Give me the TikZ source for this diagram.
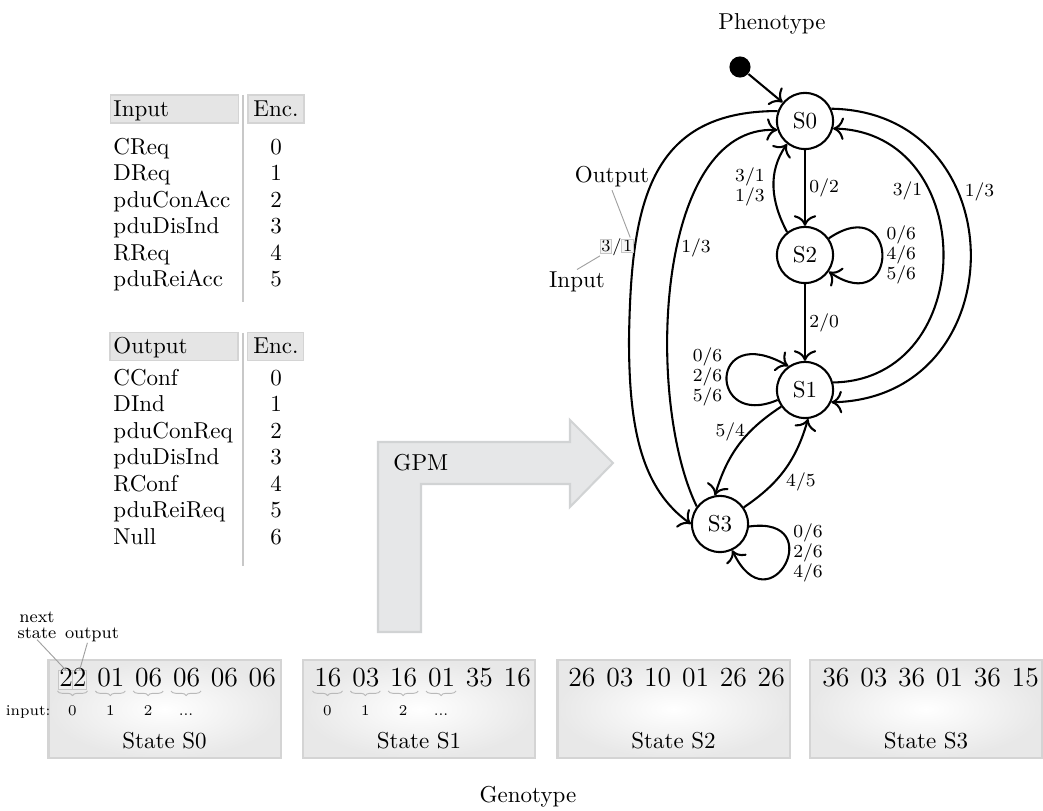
\documentclass[tikz,border=0pt]{standalone}
\usetikzlibrary{arrows.meta,decorations.pathreplacing}
\definecolor{hdrfill}{RGB}{229,229,229}
\definecolor{hdrline}{RGB}{212,212,212}
\definecolor{gpmfill}{RGB}{230,231,232}
\definecolor{gpmline}{RGB}{209,211,212}
\definecolor{boxline}{RGB}{212,212,212}
\definecolor{boxouter}{RGB}{232,232,232}
\definecolor{sepcol}{RGB}{200,200,200}
\definecolor{annotcol}{RGB}{160,160,160}
\newcommand\genfont{\large\spaceskip 4.7pt\relax}
\begin{document}
\begin{tikzpicture}[x=0.43478pt,y=0.43478pt,
  >={To[scale=1.3]},
  state/.style={circle,draw,line width=0.9pt,minimum size=24.4pt,inner sep=0pt},
  edge/.style={->,line width=0.9pt},
  lbl/.style={font=\footnotesize,inner sep=1.5pt,align=left},
  mlbl/.style={font=\fontsize{8}{8.7}\selectfont,inner sep=1.5pt,align=left},
  tabtxt/.style={anchor=base west,inner sep=0pt},
  tabnum/.style={anchor=base,inner sep=0pt},
  hdrbox/.style={draw=hdrline,fill=hdrfill,line width=0.6pt,minimum height=12.2pt,inner sep=0pt},
  sepline/.style={draw=sepcol,line width=0.8pt},
  genbox/.style={draw=boxline,line width=0.9pt,inner color=white,outer color=boxouter,minimum width=100.9pt,minimum height=42.6pt,inner sep=0pt},
  genrow/.style={anchor=base west,inner sep=0pt,font=\genfont},
  idx/.style={anchor=base,inner sep=0pt,font=\fontsize{6.5}{7}\selectfont},
  brc/.style={draw=gray!55,line width=0.4pt,decorate,decoration={brace,mirror,amplitude=2pt}},
  digbox/.style={draw=gray!45,fill=gray!12,line width=0.4pt,minimum width=6.3pt,minimum height=8.2pt,inner sep=0pt},
  annot/.style={draw=annotcol,line width=0.4pt},
  small/.style={anchor=base,inner sep=0pt,font=\fontsize{7.5}{8}\selectfont}
]
\useasboundingbox (0,0) rectangle (1043,-811);

% ---------- Input table ----------
\node[hdrbox,minimum width=55.9pt] (hIn) at (174.5,-109) {};
\node[hdrbox,minimum width=24.3pt] (hInE) at (276,-109) {};
\node[tabtxt] (tIn) at (113,-116.5) {Input};
\node[tabnum] (tInE) at (276,-116.5) {Enc.};
\draw[sepline] (243,-95) -- (243,-302);
\foreach \t/\e [count=\i from 0] in {CReq/0,DReq/1,pduConAcc/2,pduDisInd/3,RReq/4,pduReiAcc/5}{
  \node[tabtxt] (ri\i) at (113,{-154.5-26.5*\i}) {\t};
  \node[tabnum] (re\i) at (276,{-154.5-26.5*\i}) {\e};
}

% ---------- Output table ----------
\node[hdrbox,minimum width=55.6pt] (hOut) at (174,-346.5) {};
\node[hdrbox,minimum width=24.3pt] (hOutE) at (275.5,-346.5) {};
\node[tabtxt] (tOut) at (113,-354) {Output};
\node[tabnum] (tOutE) at (276,-354) {Enc.};
\draw[sepline] (243,-333) -- (243,-566);
\foreach \t/\e [count=\i from 0] in {CConf/0,DInd/1,pduConReq/2,pduDisInd/3,RConf/4,pduReiReq/5,Null/6}{
  \node[tabtxt] (ro\i) at (113,{-385.5-26.5*\i}) {\t};
  \node[tabnum] (oe\i) at (276,{-385.5-26.5*\i}) {\e};
}

% ---------- GPM arrow ----------
\draw[draw=gpmline,fill=gpmfill,line width=0.9pt]
  (378,-632) -- (378,-442) -- (570,-442) -- (570,-420) -- (613,-463)
  -- (570,-507) -- (570,-484) -- (421,-484) -- (421,-632) -- cycle;
\node[anchor=base west,inner sep=0pt] (gpm) at (393,-471) {GPM};

% ---------- Phenotype / Genotype titles ----------
\node[anchor=base,inner sep=0pt] (pheno) at (772,-30) {Phenotype};
\node[anchor=base,inner sep=0pt] (geno) at (528,-803) {Genotype};

% ---------- State machine ----------
\node[circle,fill=black,minimum size=9.2pt,inner sep=0pt] (init) at (740,-67) {};
\node[state] (S0) at (805,-121) {S0};
\node[state] (S2) at (805,-255) {S2};
\node[state] (S1) at (805,-390) {S1};
\node[state] (S3) at (720,-524) {S3};
\coordinate (L1) at (629,-340);

\draw[edge] (init) -- (S0);
\draw[edge] (S0) -- node[lbl,right] {0/2} (S2);
\draw[edge] (S2) -- node[lbl,right] {2/0} (S1);
\draw[edge] (S2.128) to[out=118,in=-125] node[mlbl,left=2pt] {3/1\\1/3} (S0.232);
\draw[edge] (S2.35) .. controls (900,-190) and (900,-320) .. node[mlbl,right] {0/6\\4/6\\5/6} (S2.-35);
\draw[edge] (S1.200) .. controls (708,-430) and (708,-320) .. node[mlbl,left] {0/6\\2/6\\5/6} (S1.125);
\draw[edge] (S0.25) .. controls (1017,-112) and (1017,-398) .. node[lbl,pos=0.35,right=1pt] {1/3} (S1.-25);
\draw[edge] (S1.15) .. controls (980,-380) and (980,-132) .. node[lbl,pos=0.68,left=1pt] {3/1} (S0.-15);
\draw[edge] (S0.160) .. controls (648,-111) and (631,-205) ..
  node[pos=0.75,left,inner sep=0pt,font=\fontsize{7.5}{9}\selectfont] (lab31) {\fboxsep=0.3pt\fboxrule=0.4pt\fcolorbox{gray!45}{gray!8}{3}/\fcolorbox{gray!45}{gray!8}{1}} (L1)
  .. controls (629,-430) and (642,-489) .. (S3.180);
\draw[edge] (S3.143) .. controls (645,-400) and (655,-125) .. node[lbl,pos=0.56,right] {1/3} (S0.198);
\draw[edge] (S1.215) to[bend right=20] node[lbl,left,pos=0.35] {5/4} (S3.100);
\draw[edge] (S3.35) to[bend right=20] node[lbl,right=3pt,pos=0.35] {4/5} (S1.-84);
\draw[edge] (S3.-5) .. controls (830,-515) and (770,-630) .. node[mlbl,right,pos=0.4] {0/6\\2/6\\4/6} (S3.-65);

% annotation of 3/1
\node[anchor=base,inner sep=1pt] (outlbl) at (612,-183) {Output};
\node[anchor=base,inner sep=1pt] (inlbl) at (577,-288) {Input};
\draw[annot] (outlbl.south) -- ([xshift=-2pt]lab31.north east);
\draw[annot] (inlbl.north) -- ([xshift=0.5pt,yshift=0.5pt]lab31.south west);

% ---------- Genotype boxes ----------
\node[genbox] (gS0) at (164.5,-709) {};
\node[genbox] (gS1) at (419,-709) {};
\node[genbox] (gS2) at (673.5,-709) {};
\node[genbox] (gS3) at (926,-709) {};

\node[digbox] (d1) at (65.8,-680) {};
\node[digbox] (d2) at (79.6,-680) {};

\node[genrow] (row0) at (59,-687) {22 01 06 06 06 06};
\node[genrow] (row1) at (314,-687) {16 03 16 01 35 16};
\node[genrow] (row2) at (568,-687) {26 03 10 01 26 26};
\node[genrow] (row3) at (822,-687) {36 03 36 01 36 15};

\foreach \xa in {59,314}{
  \foreach \k/\lab in {0/0,1/1,2/2,3/{...}}{
    \draw[brc] ({\xa+13.5+37.85*\k-15},-691) -- ({\xa+13.5+37.85*\k+15},-691);
    \node[idx] (ix\xa-\k) at ({\xa+13.5+37.85*\k},-716) {\lab};
  }
}
\node[idx,anchor=base east] (inputlbl) at (51,-716) {input:};

\node[small] (nextlbl) at (37,-623) {next};
\node[small] (statelbl) at (37,-639) {state};
\node[small] (outplbl) at (92,-639) {output};
\draw[annot] (statelbl.south) -- (d1.north);
\draw[annot] ([xshift=-2pt]outplbl.south) -- (d2.north);

\node[anchor=base,inner sep=0pt] (st0) at (164.5,-749) {State S0};
\node[anchor=base,inner sep=0pt] (st1) at (419,-749) {State S1};
\node[anchor=base,inner sep=0pt] (st2) at (673.5,-749) {State S2};
\node[anchor=base,inner sep=0pt] (st3) at (926,-749) {State S3};
\end{tikzpicture}
\end{document}
